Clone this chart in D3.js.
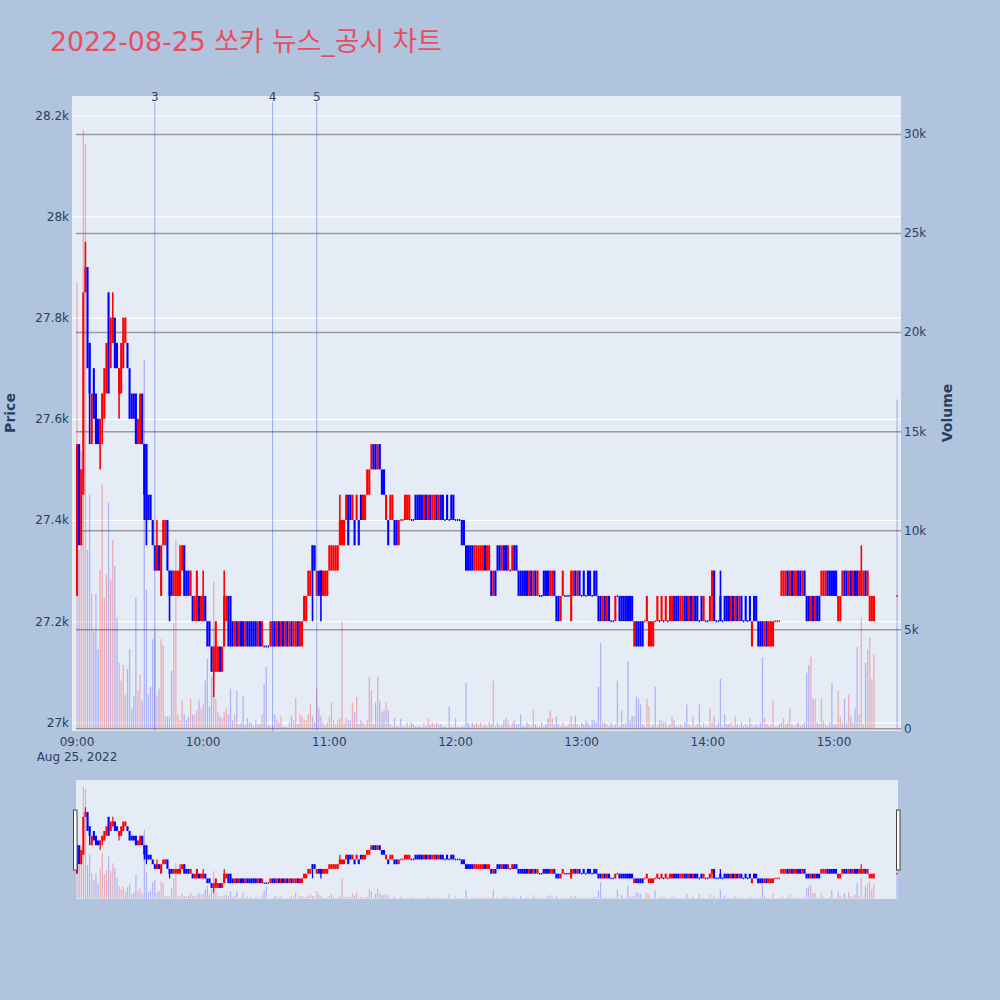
<!DOCTYPE html>
<html><head><meta charset="utf-8">
<script src="https://cdn.jsdelivr.net/npm/d3@7"></script>
<style>
html,body{margin:0;padding:0;background:#B0C4DE;}
svg{display:block;font-family:"DejaVu Sans","Noto Sans CJK KR",sans-serif;}
</style></head><body>
<svg id="chart" width="1000" height="1000"></svg>
<script>
// ---------------- data ----------------
const chartTitle = "2022-08-25 쏘카 뉴스_공시 차트";
const sessionDate = [2022, 7, 25];        // Aug 25, 2022
const continuousMinutes = 380;            // 09:00 .. 15:19, one candle per minute
const closingAuctionTime = "15:30";

const opens = [
27250,27550,27350,27450,27850,27900,27750,27550,27700,27650,
27600,27550,27600,27600,27650,27850,27700,27750,27800,27750,
27650,27650,27700,27750,27750,27700,27650,27650,27650,27550,
27550,27650,27550,27550,27450,27450,27400,27350,27300,27350,
27250,27350,27350,27400,27300,27300,27250,27250,27250,27250,
27300,27350,27300,27300,27250,27250,27200,27200,27250,27200,
27200,27250,27200,27200,27150,27100,27100,27100,27150,27100,
27150,27200,27250,27250,27200,27150,27200,27150,27200,27200,
27150,27200,27200,27200,27200,27200,27150,27200,27150,27150,
27150,27150,27150,27200,27200,27150,27200,27150,27200,27150,
27200,27150,27200,27150,27150,27200,27150,27150,27200,27200,
27250,27250,27350,27350,27250,27300,27300,27250,27250,27250,
27300,27300,27300,27300,27300,27350,27350,27350,27400,27450,
27450,27400,27400,27400,27400,27450,27400,27400,27450,27450,
27500,27550,27550,27500,27550,27500,27500,27400,27400,27400,
27400,27400,27400,27350,27400,27400,27400,27400,27400,27400,
27400,27450,27450,27450,27450,27400,27450,27400,27450,27400,
27400,27450,27400,27450,27450,27400,27450,27400,27450,27450,
27400,27400,27400,27400,27400,27350,27350,27350,27350,27300,
27300,27300,27300,27300,27350,27300,27300,27300,27250,27300,
27350,27350,27300,27350,27350,27300,27300,27300,27350,27350,
27300,27300,27300,27300,27300,27250,27300,27250,27300,27250,
27250,27250,27300,27300,27300,27250,27250,27300,27250,27250,
27200,27250,27250,27250,27250,27200,27250,27300,27250,27300,
27250,27300,27250,27300,27300,27250,27300,27300,27250,27250,
27200,27250,27200,27250,27200,27200,27200,27250,27250,27250,
27250,27250,27250,27250,27250,27150,27200,27200,27200,27200,
27200,27200,27150,27150,27150,27200,27200,27200,27200,27200,
27200,27200,27200,27200,27250,27250,27250,27200,27200,27250,
27250,27200,27250,27200,27250,27250,27200,27250,27200,27200,
27200,27200,27250,27300,27200,27200,27250,27200,27250,27250,
27250,27200,27250,27200,27250,27200,27250,27200,27250,27200,
27250,27150,27250,27250,27200,27200,27200,27150,27200,27150,
27150,27150,27200,27200,27200,27250,27250,27250,27300,27250,
27300,27250,27250,27300,27300,27250,27300,27250,27250,27200,
27250,27200,27250,27250,27250,27250,27250,27300,27300,27300,
27300,27300,27200,27200,27250,27300,27300,27250,27300,27250,
27300,27300,27250,27250,27250,27300,27250,27200,27200,27200,
27250];

const closes = [
27550,27350,27500,27850,27900,27700,27650,27650,27600,27550,
27550,27600,27650,27700,27750,27650,27800,27800,27700,27700,
27700,27750,27800,27800,27700,27600,27600,27600,27550,27600,
27650,27550,27450,27400,27400,27400,27350,27300,27350,27300,
27350,27400,27400,27300,27250,27250,27300,27300,27300,27300,
27350,27250,27250,27250,27300,27200,27250,27300,27200,27250,
27250,27200,27150,27150,27100,27150,27200,27150,27100,27150,
27250,27250,27150,27150,27150,27200,27150,27200,27150,27150,
27200,27150,27150,27150,27150,27150,27200,27150,27200,27150,
27150,27150,27200,27150,27150,27200,27150,27200,27150,27200,
27150,27200,27150,27200,27200,27150,27200,27200,27250,27250,
27300,27300,27300,27300,27300,27250,27250,27300,27300,27300,
27350,27350,27350,27350,27350,27400,27400,27400,27450,27350,
27400,27450,27350,27450,27350,27400,27450,27450,27500,27500,
27550,27500,27500,27550,27500,27450,27450,27450,27350,27450,
27450,27350,27350,27400,27400,27400,27450,27450,27450,27400,
27400,27400,27400,27400,27400,27450,27400,27450,27400,27450,
27450,27400,27450,27400,27400,27400,27400,27400,27400,27400,
27400,27400,27400,27350,27350,27300,27300,27300,27300,27350,
27350,27350,27350,27350,27300,27350,27350,27250,27300,27250,
27300,27300,27350,27300,27300,27350,27300,27350,27300,27300,
27250,27250,27250,27250,27250,27300,27250,27300,27250,27300,
27250,27250,27250,27250,27250,27300,27300,27250,27200,27200,
27250,27300,27250,27250,27250,27300,27300,27250,27300,27250,
27250,27250,27250,27250,27250,27250,27250,27250,27200,27200,
27250,27200,27250,27200,27200,27200,27250,27250,27200,27200,
27200,27200,27200,27200,27200,27200,27150,27150,27150,27150,
27200,27250,27200,27200,27200,27200,27250,27200,27250,27200,
27250,27200,27250,27250,27200,27200,27200,27250,27250,27200,
27200,27250,27200,27250,27200,27200,27200,27200,27250,27200,
27200,27250,27300,27200,27200,27200,27200,27200,27200,27200,
27200,27250,27200,27250,27200,27250,27200,27200,27200,27200,
27200,27200,27200,27200,27150,27150,27150,27200,27150,27200,
27200,27200,27200,27200,27200,27300,27300,27300,27250,27300,
27250,27300,27300,27250,27250,27300,27250,27200,27200,27250,
27200,27250,27200,27200,27300,27300,27300,27250,27250,27250,
27250,27250,27250,27250,27300,27250,27250,27300,27250,27300,
27250,27250,27300,27300,27300,27250,27300,27250,27250,27250,
27250];

const highs = [
27550,27550,27500,27850,27950,27900,27750,27650,27700,27650,
27600,27600,27650,27700,27750,27850,27800,27850,27800,27750,
27700,27750,27800,27800,27750,27700,27650,27650,27650,27600,
27650,27650,27550,27550,27450,27450,27400,27350,27400,27350,
27350,27400,27400,27400,27300,27300,27300,27300,27300,27350,
27350,27350,27300,27300,27300,27250,27250,27300,27250,27250,
27300,27250,27200,27200,27150,27150,27200,27150,27150,27150,
27300,27250,27250,27250,27200,27200,27200,27200,27200,27200,
27200,27200,27200,27200,27200,27200,27200,27200,27200,27150,
27150,27150,27200,27200,27200,27200,27200,27200,27200,27200,
27200,27200,27200,27200,27200,27200,27200,27200,27250,27250,
27300,27300,27350,27350,27300,27300,27300,27300,27300,27300,
27350,27350,27350,27350,27350,27450,27400,27400,27450,27450,
27450,27450,27400,27450,27400,27450,27450,27450,27500,27500,
27550,27550,27550,27550,27550,27500,27500,27450,27400,27450,
27450,27400,27400,27400,27400,27400,27450,27450,27450,27400,
27400,27450,27450,27450,27450,27450,27450,27450,27450,27450,
27450,27450,27450,27450,27450,27400,27450,27400,27450,27450,
27400,27400,27400,27400,27400,27350,27350,27350,27350,27350,
27350,27350,27350,27350,27350,27350,27350,27300,27300,27300,
27350,27350,27350,27350,27350,27350,27300,27350,27350,27350,
27300,27300,27300,27300,27300,27300,27300,27300,27300,27300,
27250,27250,27300,27300,27300,27300,27300,27300,27250,27250,
27250,27300,27250,27250,27250,27300,27300,27300,27300,27300,
27250,27300,27250,27300,27300,27250,27300,27300,27250,27250,
27250,27250,27250,27250,27200,27200,27250,27250,27250,27250,
27250,27250,27250,27250,27250,27200,27200,27200,27200,27200,
27200,27250,27200,27200,27200,27200,27250,27200,27250,27200,
27250,27200,27250,27250,27250,27250,27250,27250,27250,27250,
27250,27250,27250,27250,27250,27250,27200,27250,27250,27200,
27200,27250,27300,27300,27200,27200,27300,27200,27250,27250,
27250,27250,27250,27250,27250,27250,27250,27200,27250,27200,
27250,27200,27250,27250,27200,27200,27200,27200,27200,27200,
27200,27200,27200,27200,27200,27300,27300,27300,27300,27300,
27300,27300,27300,27300,27300,27300,27300,27250,27250,27250,
27250,27250,27250,27250,27300,27300,27300,27300,27300,27300,
27300,27300,27250,27250,27300,27300,27300,27300,27300,27300,
27300,27300,27300,27350,27300,27300,27300,27250,27250,27250,
27250];

const lows = [
27250,27350,27350,27450,27850,27700,27550,27550,27600,27550,
27550,27500,27550,27600,27650,27650,27700,27750,27700,27700,
27600,27650,27700,27750,27700,27600,27600,27600,27550,27550,
27550,27550,27400,27350,27400,27400,27350,27300,27300,27300,
27250,27350,27350,27300,27200,27250,27250,27250,27250,27250,
27300,27250,27250,27250,27250,27200,27200,27200,27200,27200,
27200,27200,27150,27150,27100,27050,27100,27100,27100,27100,
27150,27200,27150,27150,27150,27150,27150,27150,27150,27150,
27150,27150,27150,27150,27150,27150,27150,27150,27150,27150,
27150,27150,27150,27150,27150,27150,27150,27150,27150,27150,
27150,27150,27150,27150,27150,27150,27150,27150,27200,27200,
27250,27250,27200,27300,27250,27250,27200,27250,27250,27250,
27300,27300,27300,27300,27300,27350,27350,27350,27400,27350,
27400,27400,27350,27400,27350,27400,27400,27400,27450,27450,
27500,27500,27500,27500,27500,27450,27450,27400,27350,27400,
27400,27350,27350,27350,27400,27400,27400,27400,27400,27400,
27400,27400,27400,27400,27400,27400,27400,27400,27400,27400,
27400,27400,27400,27400,27400,27400,27400,27400,27400,27400,
27400,27400,27400,27350,27350,27300,27300,27300,27300,27300,
27300,27300,27300,27300,27300,27300,27300,27250,27250,27250,
27300,27300,27300,27300,27300,27300,27300,27300,27300,27300,
27250,27250,27250,27250,27250,27250,27250,27250,27250,27250,
27250,27250,27250,27250,27250,27250,27250,27250,27200,27200,
27200,27250,27250,27250,27250,27200,27250,27250,27250,27250,
27250,27250,27250,27250,27250,27250,27250,27250,27200,27200,
27200,27200,27200,27200,27200,27200,27200,27250,27200,27200,
27200,27200,27200,27200,27200,27150,27150,27150,27150,27150,
27200,27200,27150,27150,27150,27200,27200,27200,27200,27200,
27200,27200,27200,27200,27200,27200,27200,27200,27200,27200,
27200,27200,27200,27200,27200,27200,27200,27200,27200,27200,
27200,27200,27200,27200,27200,27200,27200,27200,27200,27200,
27200,27200,27200,27200,27200,27200,27200,27200,27200,27200,
27200,27150,27200,27200,27150,27150,27150,27150,27150,27150,
27150,27150,27200,27200,27200,27250,27250,27250,27250,27250,
27250,27250,27250,27250,27250,27250,27250,27200,27200,27200,
27200,27200,27200,27200,27250,27250,27250,27250,27250,27250,
27250,27250,27200,27200,27250,27250,27250,27250,27250,27250,
27250,27250,27250,27250,27250,27250,27250,27200,27200,27200,
27250];

const volumes = [
22500,9000,14000,30200,29500,9000,11800,6800,4900,6800,
4000,8000,12300,6600,7800,11400,7500,9500,8200,5600,
3300,2400,3200,1700,3000,4000,1000,1600,6600,1900,
2700,1400,18600,7000,1700,2100,4500,5000,1600,2000,
4500,4200,600,600,600,2900,5300,9500,700,400,
1400,700,400,600,1500,700,700,900,1400,1000,
1200,2400,3500,1100,2600,7400,1500,800,600,500,
800,1000,700,2000,400,700,1900,200,300,1600,
200,500,300,300,100,400,200,200,700,2200,
3100,150,100,100,700,400,300,600,100,100,
50,300,600,400,1500,200,700,600,400,400,
700,1200,600,300,2000,1000,600,300,150,300,
600,1300,400,200,400,500,5400,300,500,400,
400,1300,800,1600,200,400,300,200,400,2600,
1900,200,1300,2600,1400,800,900,1300,900,200,
100,500,100,100,500,100,100,300,100,300,
200,100,100,100,50,300,100,500,200,300,
200,300,200,200,100,100,50,1100,100,50,
500,100,50,100,100,2300,300,100,300,200,
300,150,300,100,200,100,300,200,2400,100,
300,100,200,400,500,400,100,300,400,200,
200,700,100,100,300,200,100,900,200,100,
100,300,100,200,500,900,500,200,600,200,
100,300,100,100,200,600,200,600,200,100,
300,200,400,300,100,400,400,300,2100,4300,
300,300,200,100,300,100,200,2400,100,900,
200,300,3400,400,600,600,1600,1500,1200,200,
100,1500,1100,100,200,2100,100,400,400,300,
300,100,200,600,400,100,100,200,100,300,
1200,200,100,600,100,200,1200,100,300,100,
100,1000,300,600,100,300,2500,100,700,200,
200,300,100,600,200,100,300,100,200,100,
500,200,100,200,100,300,3600,500,200,100,
200,1400,100,100,200,300,500,200,300,1000,
200,100,200,300,100,200,300,2800,3200,3600,
1500,1500,300,200,1500,400,200,100,300,2300,
200,200,1900,600,300,1500,300,1700,600,300,
1000,4100,700,5600,200,3300,4000,4600,2500,3700,
16600];

const priceTicks = [27000, 27200, 27400, 27600, 27800, 28000, 28200];
const volumeTicks = [0, 5000, 10000, 15000, 20000, 25000, 30000];
const timeTickLabels = ["09:00","10:00","11:00","12:00","13:00","14:00","15:00"];
const newsLabels = ["3", "4", "5"];
const newsTimes = ["09:37", "10:33", "10:54"];

// ---------------- helpers ----------------
const at = hm => { const [h, m] = hm.split(":").map(Number); return new Date(sessionDate[0], sessionDate[1], sessionDate[2], h, m); };
const times = d3.range(continuousMinutes).map(i => new Date(sessionDate[0], sessionDate[1], sessionDate[2], 9, i))
  .concat([at(closingAuctionTime)]);
const t0 = at("09:00").getTime();
const MIN = 60000;

const UP = "#ff0000", DOWN = "#0000ff";
const dirs = [];
for (let i = 0; i < closes.length; i++) {
  const o = opens[i], c = closes[i];
  let d;
  if (c > o) d = 1; else if (c < o) d = -1;
  else if (i > 0 && c > closes[i - 1]) d = 1;
  else if (i > 0 && c < closes[i - 1]) d = -1;
  else d = i > 0 ? dirs[i - 1] : 1;
  dirs.push(d);
}
const data = times.map((t, i) => ({ t, o: opens[i], h: highs[i], l: lows[i], c: closes[i], v: volumes[i], d: dirs[i] }));

const svg = d3.select("#chart");
const W = 1000, H = 1000;
svg.append("rect").attr("width", W).attr("height", H).attr("fill", "#B0C4DE");

// ---------------- main plot ----------------
const P = { x0: 72, x1: 901, y0: 96, y1: 731 };
const x = d3.scaleTime().domain([new Date(t0 - 2.38 * MIN), new Date(t0 + 391.86 * MIN)]).range([P.x0, P.x1]);
const yP = d3.scaleLinear().domain([26983, 28238]).range([P.y1, P.y0]);
const yV = d3.scaleLinear().domain([-136, 31920]).range([P.y1, P.y0]);

svg.append("rect").attr("x", P.x0).attr("y", P.y0).attr("width", P.x1 - P.x0).attr("height", P.y1 - P.y0).attr("fill", "#E5ECF6");

svg.append("defs").append("clipPath").attr("id", "clipMain")
  .append("rect").attr("x", P.x0).attr("y", P.y0).attr("width", P.x1 - P.x0).attr("height", P.y1 - P.y0);

const textColor = "#2a3f5f";
const fmtK = d3.format("~s");

// price axis (left) with white grid
const gPrice = svg.append("g").attr("transform", `translate(${P.x0},0)`)
  .call(d3.axisLeft(yP).tickValues(priceTicks).tickSize(-(P.x1 - P.x0)).tickPadding(3).tickFormat(d => fmtK(d)));
gPrice.select(".domain").remove();
gPrice.selectAll(".tick line").attr("stroke", "#ffffff").attr("stroke-width", 1.2);
gPrice.selectAll(".tick text").attr("fill", textColor).attr("font-size", 12).attr("font-family", "DejaVu Sans");

// volume axis (right) with gray grid
const gVol = svg.append("g").attr("transform", `translate(${P.x1},0)`)
  .call(d3.axisRight(yV).tickValues(volumeTicks).tickSize(-(P.x1 - P.x0) + 4).tickPadding(3).tickFormat(d => fmtK(d)));
gVol.select(".domain").remove();
gVol.selectAll(".tick line").attr("stroke", "#9a9a9a").attr("stroke-width", 1.5);
gVol.selectAll(".tick text").attr("fill", textColor).attr("font-size", 12).attr("font-family", "DejaVu Sans");

function drawSeries(g, xs, yp, yv, opt) {
  // volume bars (red only when the candle closed above its open)
  g.append("g").selectAll("rect").data(data).join("rect")
    .attr("x", d => xs(d.t) - opt.volW / 2)
    .attr("width", opt.volW)
    .attr("y", d => yv(d.v))
    .attr("height", d => Math.max(0, yv(0) - yv(d.v)))
    .attr("fill", d => d.c > d.o ? "rgba(255,0,0,0.27)" : "rgba(0,0,255,0.24)");
  // wicks
  g.append("g").selectAll("line").data(data.filter(d => d.h > Math.max(d.o, d.c) || d.l < Math.min(d.o, d.c))).join("line")
    .attr("x1", d => xs(d.t)).attr("x2", d => xs(d.t))
    .attr("y1", d => yp(d.h)).attr("y2", d => yp(d.l))
    .attr("stroke", d => d.d > 0 ? UP : DOWN).attr("stroke-width", opt.wickW);
  // bodies
  g.append("g").selectAll("rect").data(data).join("rect")
    .attr("x", d => xs(d.t) - (d.o === d.c ? opt.dotW : opt.bodyW) / 2)
    .attr("width", d => d.o === d.c ? opt.dotW : opt.bodyW)
    .attr("y", d => d.o === d.c ? yp(d.c) - opt.flatH / 2 : yp(Math.max(d.o, d.c)))
    .attr("height", d => d.o === d.c ? opt.flatH : Math.abs(yp(d.o) - yp(d.c)))
    .attr("fill", d => d.d > 0 ? UP : DOWN);
}

const gMain = svg.append("g").attr("clip-path", "url(#clipMain)");
drawSeries(gMain, x, yP, yV, { volW: 1.3, wickW: 1.6, bodyW: 2.1, dotW: 1.3, flatH: 2 });

// news markers
const gNews = svg.append("g");
newsTimes.forEach((tm, k) => {
  const xx = x(at(tm));
  gNews.append("line").attr("x1", xx).attr("x2", xx).attr("y1", 102).attr("y2", P.y1)
    .attr("stroke", "rgba(60,90,220,0.45)").attr("stroke-width", 1);
  gNews.append("text").attr("x", xx).attr("y", 101).attr("text-anchor", "middle")
    .attr("font-size", 12).attr("fill", textColor).text(newsLabels[k]);
});

// x axis labels
timeTickLabels.forEach(lbl => {
  svg.append("text").attr("x", x(at(lbl))).attr("y", 746).attr("text-anchor", "middle")
    .attr("font-size", 12).attr("fill", textColor).text(lbl);
});
svg.append("text").attr("x", x(at("09:00"))).attr("y", 761).attr("text-anchor", "middle")
  .attr("font-size", 12).attr("fill", textColor).text(d3.timeFormat("%b %-d, %Y")(at("09:00")));

// axis titles
svg.append("text").attr("transform", "translate(14.5,413) rotate(-90)").attr("text-anchor", "middle")
  .attr("font-size", 14).attr("font-weight", "bold").attr("fill", textColor).text("Price");
svg.append("text").attr("transform", "translate(951.5,413) rotate(-90)").attr("text-anchor", "middle")
  .attr("font-size", 14).attr("font-weight", "bold").attr("fill", textColor).text("Volume");

// title
svg.append("text").attr("x", 50).attr("y", 51).attr("font-size", 26.8)
  .attr("fill", "rgb(234,76,96)").text(chartTitle);

// ---------------- range slider ----------------
const S = { x0: 76, x1: 898, y0: 780, y1: 899 };
svg.append("rect").attr("x", S.x0).attr("y", S.y0).attr("width", S.x1 - S.x0).attr("height", S.y1 - S.y0).attr("fill", "#E5ECF6");
svg.select("defs").append("clipPath").attr("id", "clipSlider")
  .append("rect").attr("x", S.x0).attr("y", S.y0).attr("width", S.x1 - S.x0).attr("height", S.y1 - S.y0);
const xs = d3.scaleTime().domain([new Date(t0 - 0.5 * MIN), new Date(t0 + 390.5 * MIN)]).range([S.x0, S.x1]);
const yPs = d3.scaleLinear().domain(yP.domain()).range([S.y1, S.y0]);
const yVs = d3.scaleLinear().domain(yV.domain()).range([S.y1, S.y0]);
const gSl = svg.append("g").attr("clip-path", "url(#clipSlider)");
drawSeries(gSl, xs, yPs, yVs, { volW: 1.2, wickW: 1.2, bodyW: 2.1, dotW: 1.3, flatH: 1.6 });

// handles
[[73.5, 810], [896.5, 810]].forEach(([hx, hy]) => {
  svg.append("rect").attr("x", hx).attr("y", hy).attr("width", 3.5).attr("height", 60)
    .attr("fill", "#ffffff").attr("stroke", "#444").attr("stroke-width", 1);
});
</script>
</body></html>
